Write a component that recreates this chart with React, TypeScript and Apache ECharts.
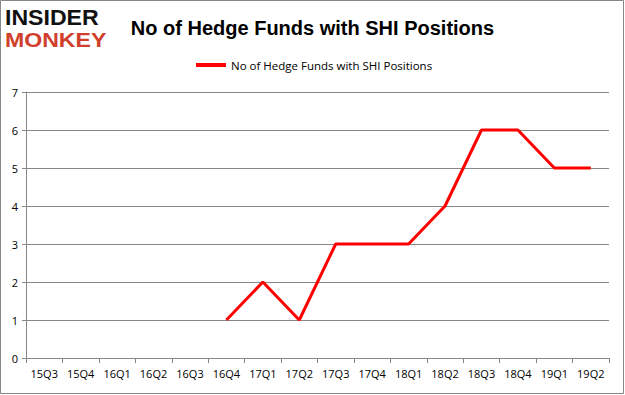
import React, { useEffect, useRef } from "react";
import * as echarts from "echarts";

const categories = ["15Q3","15Q4","16Q1","16Q2","16Q3","16Q4","17Q1","17Q2","17Q3","17Q4","18Q1","18Q2","18Q3","18Q4","19Q1","19Q2"];
const seriesName = "No of Hedge Funds with SHI Positions";
const values: (number | null)[] = [null,null,null,null,null,1,2,1,3,3,3,4,6,6,5,5];
const yTicks = { min: 0, max: 7, interval: 1 };

export default function App() {
  const ref = useRef<HTMLDivElement>(null);
  useEffect(() => {
    const chart = echarts.init(ref.current!, null, { renderer: "svg" });
    chart.setOption({
      animation: false,
      backgroundColor: "#fff",
      title: {
        text: "No of Hedge Funds with SHI Positions",
        left: "center",
        top: 13,
        textStyle: { fontFamily: "Liberation Sans", fontSize: 20, fontWeight: "bold", color: "#000" },
      },
      legend: {
        top: 54,
        left: 191,
        itemWidth: 30,
        itemHeight: 4,
        itemGap: 5,
        icon: "rect",
        textStyle: { fontFamily: "Open Sans", fontSize: 11.5, color: "#000" },
        data: [seriesName],
      },
      grid: { left: 26, right: 16, top: 92, bottom: 37, containLabel: false },
      xAxis: {
        type: "category",
        data: categories,
        boundaryGap: true,
        axisLine: { lineStyle: { color: "#888" } },
        axisTick: { show: true, alignWithLabel: false, lineStyle: { color: "#888" } },
        axisLabel: { color: "#000", fontFamily: "Open Sans", fontSize: 11, margin: 10, interval: 0 },
      },
      yAxis: {
        type: "value",
        min: yTicks.min,
        max: yTicks.max,
        interval: yTicks.interval,
        axisLine: { show: true, lineStyle: { color: "#888" } },
        axisTick: { show: true, length: 4, lineStyle: { color: "#888" } },
        splitLine: { lineStyle: { color: "#888" } },
        axisLabel: { color: "#000", fontFamily: "Open Sans", fontSize: 11, margin: 8 },
      },
      series: [
        {
          name: seriesName,
          type: "line",
          data: values,
          symbol: "none",
          connectNulls: false,
          lineStyle: { color: "#ff0000", width: 3 },
          itemStyle: { color: "#ff0000" },
        },
      ],
      graphic: [
        { type: "rect", shape: { x: 0.5, y: 0.5, width: 623, height: 393 }, style: { fill: "none", stroke: "#888", lineWidth: 1 } },
        { type: "text", x: 5, y: 7, scaleX: 1.1, scaleY: 1.05, style: { text: "INSIDER", font: "bold 21px 'Liberation Sans'", lineHeight: 21, fill: "#111" } },
        { type: "text", x: 5, y: 29, scaleX: 1.1, scaleY: 1.0, style: { text: "MONKEY", font: "bold 21px 'Liberation Sans'", lineHeight: 21, fill: "#d0402c" } },
      ],
    });
    return () => chart.dispose();
  }, []);
  return <div ref={ref} style={{ width: 625, height: 395, position: "absolute", left: 0, top: 0 }} />;
}
